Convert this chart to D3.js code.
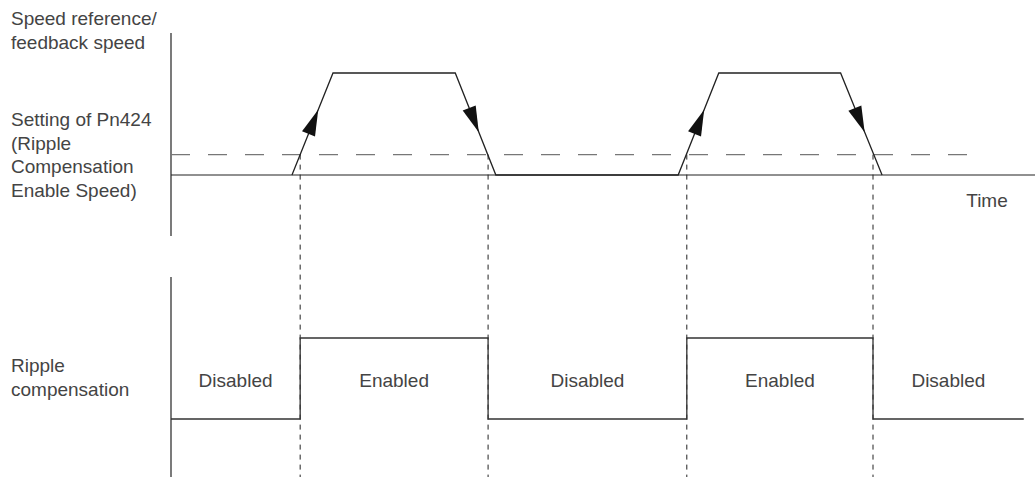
<!DOCTYPE html>
<html lang="en">
<head>
    <meta charset="UTF-8">
    <title>Ripple Compensation Enable Speed</title>
    <script src="https://d3js.org/d3.v7.min.js"></script>
    <style>
        body { margin: 0; background: #fff; }
        text {
            font-family: "Liberation Sans", Arial, sans-serif;
            font-size: 19px;
            fill: #444;
        }
    </style>
</head>
<body>
    <svg id="chart" width="1035" height="477"></svg>
    <script>
        // speed profile (time in arbitrary units 0..100, speed in % of max)
        const speedTime = [0, 14, 18.75, 32.9, 37.6, 58.7, 63.4, 77.5, 82.3, 100];
        const speedVal  = [0, 0, 100, 100, 0, 0, 100, 100, 0, 0];
        const thresholdSpeed = 20;   // Pn424 setting
        const thresholdEnd = 92.7;

        // ripple compensation switching times and states
        const switchTimes = [0, 14.95, 36.7, 59.7, 81.25, 98.7];
        const states = ["Disabled", "Enabled", "Disabled", "Enabled", "Disabled"];

        // ramps that carry an arrow: [start index in speedTime]
        const arrowRamps = [1, 3, 5, 7];

        const topLabel = ["Speed reference/", "feedback speed"];
        const sideLabel = ["Setting of Pn424", "(Ripple", "Compensation", "Enable Speed)"];
        const bottomLabel = ["Ripple", "compensation"];

        const svg = d3.select("#chart");

        const x = d3.scaleLinear().domain([0, 100]).range([171, 1035]);
        const ySpeed = d3.scaleLinear().domain([0, 100]).range([175, 73]);
        const yState = d3.scaleLinear().domain([0, 1]).range([419, 338]);

        // axes (plain lines)
        svg.append("line").attr("x1", 171).attr("x2", 171).attr("y1", 33).attr("y2", 236)
            .attr("stroke", "#222").attr("stroke-width", 1.2);
        svg.append("line").attr("x1", x(0)).attr("x2", x(100)).attr("y1", ySpeed(0)).attr("y2", ySpeed(0))
            .attr("stroke", "#222").attr("stroke-width", 1.2);
        svg.append("line").attr("x1", 171).attr("x2", 171).attr("y1", 277).attr("y2", 477)
            .attr("stroke", "#222").attr("stroke-width", 1.2);

        // threshold dashed line
        svg.append("line")
            .attr("x1", x(0)).attr("x2", x(thresholdEnd))
            .attr("y1", ySpeed(thresholdSpeed)).attr("y2", ySpeed(thresholdSpeed))
            .attr("stroke", "#777").attr("stroke-width", 1.3)
            .attr("stroke-dasharray", "19,18");

        // vertical dashed markers at switching times
        svg.selectAll(".marker")
            .data(switchTimes.slice(1, -1))
            .join("line")
            .attr("class", "marker")
            .attr("x1", d => x(d)).attr("x2", d => x(d))
            .attr("y1", ySpeed(thresholdSpeed)).attr("y2", 477)
            .attr("stroke", "#222").attr("stroke-width", 1)
            .attr("stroke-dasharray", "5,5");

        // speed profile
        const speedPts = speedTime.map((t, i) => [t, speedVal[i]]);
        svg.append("path")
            .attr("d", d3.line().x(d => x(d[0])).y(d => ySpeed(d[1]))(speedPts.slice(1, -1)))
            .attr("fill", "none").attr("stroke", "#222").attr("stroke-width", 1.3);

        // arrow heads on the ramps
        arrowRamps.forEach(i => {
            const x0 = x(speedTime[i]), y0 = ySpeed(speedVal[i]);
            const x1 = x(speedTime[i + 1]), y1 = ySpeed(speedVal[i + 1]);
            const up = speedVal[i + 1] > speedVal[i];
            const f = up ? 0.64 : 0.58;
            const tx = x0 + (x1 - x0) * f, ty = y0 + (y1 - y0) * f;
            const len = Math.hypot(x1 - x0, y1 - y0);
            const ux = (x1 - x0) / len, uy = (y1 - y0) / len;
            const L = 26, W = 7;
            const bx = tx - ux * L, by = ty - uy * L;
            svg.append("path")
                .attr("d", `M${tx},${ty}L${bx - uy * W},${by + ux * W}L${bx + uy * W},${by - ux * W}Z`)
                .attr("fill", "#111");
        });

        // ripple compensation step signal
        const stepPts = [];
        states.forEach((s, i) => {
            const v = s === "Enabled" ? 1 : 0;
            stepPts.push([switchTimes[i], v], [switchTimes[i + 1], v]);
        });
        svg.append("path")
            .attr("d", d3.line().x(d => x(d[0])).y(d => yState(d[1]))(stepPts))
            .attr("fill", "none").attr("stroke", "#333").attr("stroke-width", 1.3);

        // state labels
        svg.selectAll(".state")
            .data(states)
            .join("text")
            .attr("class", "state")
            .attr("x", (d, i) => (x(switchTimes[i]) + x(switchTimes[i + 1])) / 2)
            .attr("y", 387)
            .attr("text-anchor", "middle")
            .text(d => d);

        // left labels
        const addLines = (lines, y0) => lines.forEach((t, i) =>
            svg.append("text").attr("x", 11).attr("y", y0 + i * 23.5).text(t));
        addLines(topLabel, 25);
        addLines(sideLabel, 126);
        addLines(bottomLabel, 372);

        svg.append("text").attr("x", 987).attr("y", 207).attr("text-anchor", "middle").text("Time");
    </script>
</body>
</html>
